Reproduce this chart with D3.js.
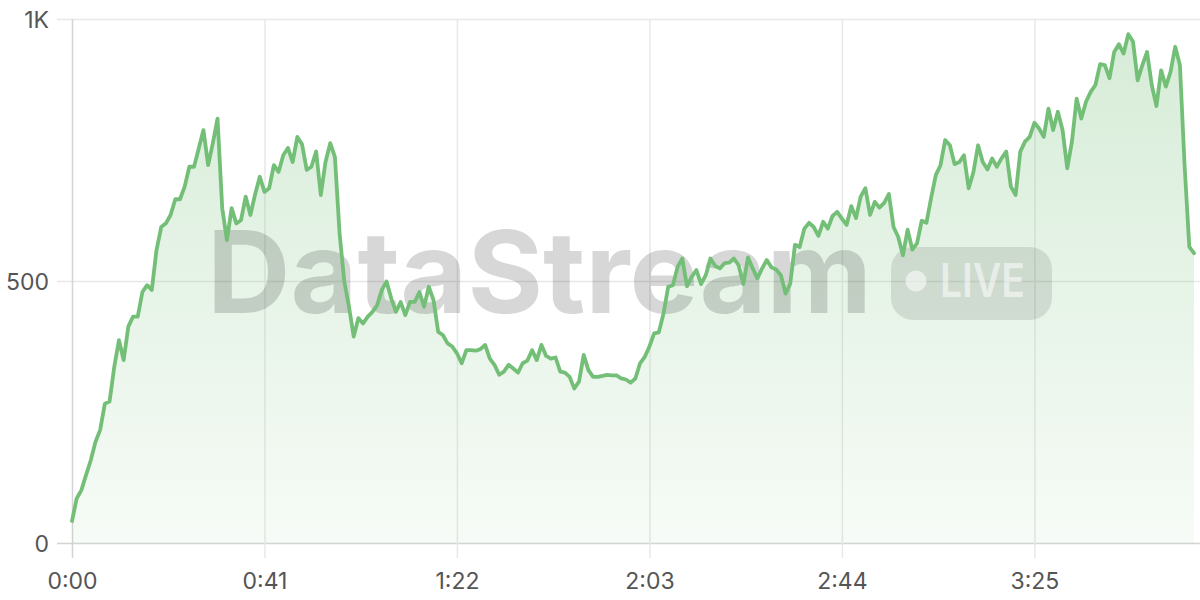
<!DOCTYPE html>
<html>
<head>
<meta charset="utf-8">
<script src="https://cdn.jsdelivr.net/npm/d3@7/dist/d3.min.js"></script>
<style>
  html, body { margin: 0; padding: 0; background: #ffffff; }
  svg { display: block; }
</style>
</head>
<body>
<svg id="chart" width="1200" height="600"></svg>
<script>
// ---- data (one sample per second, index = seconds) ----
const valuesA = [42, 85, 101, 130, 158, 193, 216, 266, 270, 336, 387, 349, 413, 432, 432, 479, 492, 483, 559, 603,
  610, 626, 656, 656, 680, 718, 718, 753, 788, 721, 763, 810, 639, 578, 639, 610, 616, 661, 626];
const valuesB = [665, 699, 670, 677, 721, 708, 740, 754, 727, 775, 761, 712, 718, 747, 664, 727, 763, 737, 591, 499,
  451, 394, 429, 419, 432, 441, 454, 483, 499, 467, 441, 460, 435, 460, 460, 479, 451, 489, 464, 403, 397, 381];
const valuesC = [375, 362, 343, 368, 368, 367, 370, 378, 352, 340, 321, 327, 340, 333, 325, 343, 348, 368, 349, 378,
  357, 352, 354, 327, 325, 317, 295, 308, 359, 330, 317, 317, 319, 321, 320, 320, 314, 312, 306, 314, 343, 355, 375, 400, 402];
const valuesD = [438, 489, 492, 527, 543, 490, 508, 521, 494, 511, 543, 529, 524, 534, 535, 543, 530, 494, 545, 524,
  505, 524, 540, 526, 522, 511, 476, 495, 569, 565, 600, 611, 603, 586, 613, 600, 624, 632, 619, 607, 643, 620];
const valuesE = [661, 677, 626, 651, 640, 649, 666, 603, 584, 549, 598, 560, 572, 615, 611, 658, 702, 721, 769, 759,
  723, 727, 740, 677, 707, 759, 727, 713, 734, 718, 734, 747, 680, 664, 747, 766, 775, 802, 791, 775, 829];
const valuesF = [788, 823, 788, 715, 766, 848, 810, 842, 861, 874, 914, 912, 887, 937, 952, 934, 971, 957, 883, 912,
  937, 874, 834, 902, 871, 899, 947, 912, 720, 565, 553];

const xTickValues = [0, 41, 82, 123, 164, 205];
const xTickLabels = ["0:00", "0:41", "1:22", "2:03", "2:44", "3:25"];
const yTickValues = [0, 500, 1000];
const yTickLabels = ["0", "500", "1K"];

const watermarkText = "DataStream";
const badgeText = "LIVE";

// ---- build ----
const values = [].concat(valuesA, valuesB, valuesC, valuesD, valuesE, valuesF);
const data = values.map((v, i) => ({ t: i, v: v }));

const svg = d3.select("#chart");
const FONT = "Inter, 'Noto Sans', 'DejaVu Sans', sans-serif";
const GREEN = "#74bf78";

const x = d3.scaleLinear().domain([0, values.length - 1]).range([72, 1194]);
const y = d3.scaleLinear().domain([0, 1000]).range([543, 19]);

// gradient
const defs = svg.append("defs");
const grad = defs.append("linearGradient")
  .attr("id", "areaGrad")
  .attr("gradientUnits", "userSpaceOnUse")
  .attr("x1", 0).attr("x2", 0)
  .attr("y1", y(1000)).attr("y2", y(0));
grad.append("stop").attr("offset", "0%").attr("stop-color", GREEN).attr("stop-opacity", 0.30);
grad.append("stop").attr("offset", "100%").attr("stop-color", GREEN).attr("stop-opacity", 0.06);

// grid: horizontal
const yAxis = d3.axisLeft(y)
  .tickValues(yTickValues)
  .tickSize(-(1200 - 57))
  .tickFormat((d, i) => yTickLabels[i]);
const gy = svg.append("g").attr("transform", "translate(57,0)").call(yAxis);
gy.select(".domain").remove();
gy.selectAll(".tick line")
  .attr("stroke", (d) => d === 0 ? "#d4d4d4" : "#e8e8e8")
  .attr("stroke-width", 1.5);
gy.selectAll(".tick text")
  .attr("x", -8)
  .attr("dy", "0.37em")
  .attr("fill", "#555")
  .style("font-family", FONT)
  .style("font-size", "23px");

// grid: vertical
const xAxis = d3.axisBottom(x)
  .tickValues(xTickValues)
  .tickSize(-(558 - 19))
  .tickFormat((d, i) => xTickLabels[i]);
const gx = svg.append("g").attr("transform", "translate(0,558)").call(xAxis);
gx.select(".domain").remove();
gx.selectAll(".tick line")
  .attr("stroke", (d) => d === 0 ? "#d4d4d4" : "#e8e8e8")
  .attr("stroke-width", 1.5);
gx.selectAll(".tick text")
  .attr("y", 22)
  .attr("dy", "0.37em")
  .attr("fill", "#555")
  .style("font-family", FONT)
  .style("font-size", "23px");

// area
const area = d3.area()
  .x(d => x(d.t))
  .y0(y(0))
  .y1(d => y(d.v));
svg.append("path")
  .datum(data)
  .attr("d", area)
  .attr("fill", "url(#areaGrad)");

// watermark
const wm = svg.append("g").attr("pointer-events", "none");
wm.append("text")
  .attr("x", 207)
  .attr("y", 313)
  .attr("textLength", 665)
  .attr("lengthAdjust", "spacingAndGlyphs")
  .attr("fill", "rgba(0,0,0,0.155)")
  .style("font-family", FONT)
  .style("font-weight", 700)
  .style("font-size", "114px")
  .text(watermarkText);
wm.append("rect")
  .attr("x", 891).attr("y", 247)
  .attr("width", 161).attr("height", 73)
  .attr("rx", 22)
  .attr("fill", "rgba(0,0,0,0.10)");
wm.append("circle")
  .attr("cx", 916).attr("cy", 281)
  .attr("r", 10.5)
  .attr("fill", "rgba(255,255,255,0.55)");
wm.append("text")
  .attr("x", 940)
  .attr("y", 297)
  .attr("textLength", 85)
  .attr("lengthAdjust", "spacingAndGlyphs")
  .attr("fill", "rgba(255,255,255,0.55)")
  .style("font-family", FONT)
  .style("font-weight", 600)
  .style("font-size", "47px")
  .text(badgeText);

// line
const line = d3.line()
  .x(d => x(d.t))
  .y(d => y(d.v));
svg.append("path")
  .datum(data)
  .attr("d", line)
  .attr("fill", "none")
  .attr("stroke", GREEN)
  .attr("stroke-width", 3.8)
  .attr("stroke-linejoin", "round")
  .attr("stroke-linecap", "round");
</script>
</body>
</html>
